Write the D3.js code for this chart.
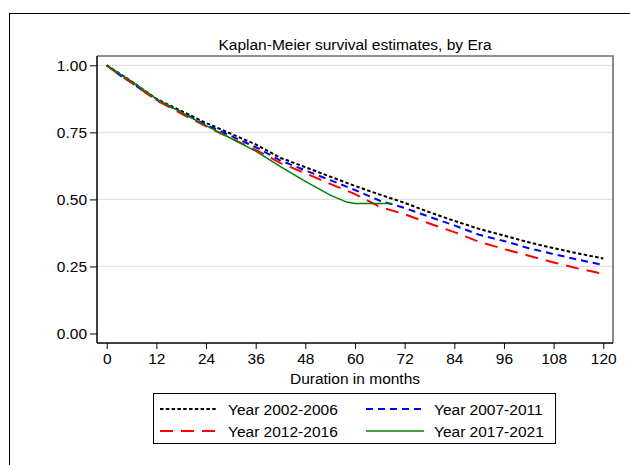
<!DOCTYPE html>
<html>
<head>
<meta charset="utf-8">
<script src="https://cdn.jsdelivr.net/npm/d3@7"></script>
<style>
  html, body { margin: 0; padding: 0; background: #fff; }
  svg { display: block; font-family: "Liberation Sans", Arial, sans-serif; }
</style>
</head>
<body>
<svg id="chart" width="630" height="465"></svg>
<script>
// Kaplan-Meier survival estimates by era (months since start)
const months1 = [0, 3, 6, 12, 18, 24, 30, 36, 42, 48, 54, 60, 66, 72, 78, 84, 90, 96, 102, 108, 114, 120];
const surv2002 = [1.00, 0.97, 0.94, 0.875, 0.83, 0.785, 0.745, 0.705, 0.655, 0.62, 0.585, 0.55, 0.518, 0.487, 0.452, 0.42, 0.39, 0.365, 0.34, 0.318, 0.298, 0.28];
const surv2007 = [1.00, 0.965, 0.935, 0.872, 0.825, 0.778, 0.737, 0.695, 0.645, 0.608, 0.572, 0.535, 0.495, 0.468, 0.435, 0.403, 0.368, 0.345, 0.318, 0.296, 0.275, 0.255];
const surv2012 = [1.00, 0.965, 0.935, 0.87, 0.82, 0.772, 0.728, 0.685, 0.635, 0.598, 0.558, 0.52, 0.472, 0.445, 0.41, 0.378, 0.342, 0.315, 0.29, 0.265, 0.242, 0.222];
const months4 = [0, 3, 6, 12, 18, 24, 30, 36, 42, 48, 54, 58, 60, 69];
const surv2017 = [1.00, 0.97, 0.94, 0.875, 0.825, 0.775, 0.728, 0.68, 0.622, 0.567, 0.516, 0.49, 0.485, 0.485];

const seriesNames = ["Year 2002-2006", "Year 2007-2011", "Year 2012-2016", "Year 2017-2021"];
const xTicks = [0, 12, 24, 36, 48, 60, 72, 84, 96, 108, 120];
const yTicks = [0, 0.25, 0.5, 0.75, 1.0];
const titleText = "Kaplan-Meier survival estimates, by Era";
const xTitle = "Duration in months";

const series = [
  { name: seriesNames[0], t: months1, s: surv2002, color: "#000000", dash: "3.5,2.3", width: 2 },
  { name: seriesNames[1], t: months1, s: surv2007, color: "#0000ff", dash: "7,5", width: 2 },
  { name: seriesNames[2], t: months1, s: surv2012, color: "#ff0000", dash: "13,8", width: 2 },
  { name: seriesNames[3], t: months4, s: surv2017, color: "#008000", dash: null, width: 1.5 }
];

const svg = d3.select("#chart");
const fontSize = 15.5;

// outer graph frame (runs off the right and bottom edges)
svg.append("rect")
  .attr("x", 9.5).attr("y", 13.5)
  .attr("width", 700).attr("height", 600)
  .attr("fill", "none").attr("stroke", "#000").attr("stroke-width", 1);

const plot = { left: 97, right: 613, top: 56, bottom: 343 };
const x = d3.scaleLinear().domain([0, 120]).range([106.7, 603.3]);
const y = d3.scaleLinear().domain([0, 1]).range([333.5, 65.3]);

// grid lines
svg.append("g")
  .selectAll("line")
  .data(yTicks.filter(d => d > 0))
  .join("line")
  .attr("x1", plot.left).attr("x2", plot.right)
  .attr("y1", d => y(d)).attr("y2", d => y(d))
  .attr("stroke", "#e1e1e1").attr("stroke-width", 1.2);

// plot region border: top and right in gray
svg.append("path")
  .attr("d", `M${plot.left},${plot.top}H${plot.right}V${plot.bottom}`)
  .attr("fill", "none").attr("stroke", "#6e6e6e").attr("stroke-width", 1.6);

// axes
const xAxis = d3.axisBottom(x).tickValues(xTicks).tickSize(6).tickPadding(4).tickFormat(d3.format("d"));
const gx = svg.append("g").attr("transform", `translate(0,${plot.bottom})`).call(xAxis);
gx.select(".domain").attr("d", `M${plot.left},0H${plot.right}`).attr("stroke", "#000").attr("stroke-width", 1.5);
gx.selectAll(".tick line").attr("stroke", "#000").attr("stroke-width", 1);
gx.selectAll(".tick text").attr("font-size", fontSize).attr("fill", "#000")
  .attr("font-family", "Liberation Sans, Arial, sans-serif").attr("dy", "0.71em");

const yAxis = d3.axisLeft(y).tickValues(yTicks).tickSize(7).tickPadding(3).tickFormat(d3.format(".2f"));
const gy = svg.append("g").attr("transform", `translate(${plot.left},0)`).call(yAxis);
gy.select(".domain").attr("d", `M0,${plot.top}V${plot.bottom}`).attr("stroke", "#000").attr("stroke-width", 1.5);
gy.selectAll(".tick line").attr("stroke", "#000").attr("stroke-width", 1);
gy.selectAll(".tick text").attr("font-size", fontSize).attr("fill", "#000")
  .attr("font-family", "Liberation Sans, Arial, sans-serif");

// survival curves
const line = d3.line().x(d => x(d[0])).y(d => y(d[1]));
svg.append("g")
  .selectAll("path")
  .data(series)
  .join("path")
  .attr("d", d => line(d.t.map((t, i) => [t, d.s[i]])))
  .attr("fill", "none")
  .attr("stroke", d => d.color)
  .attr("stroke-width", d => d.width)
  .attr("stroke-dasharray", d => d.dash);

// titles
svg.append("text")
  .attr("x", (plot.left + plot.right) / 2).attr("y", 49.5)
  .attr("text-anchor", "middle").attr("font-size", fontSize)
  .text(titleText);

svg.append("text")
  .attr("x", (plot.left + plot.right) / 2).attr("y", 383.5)
  .attr("text-anchor", "middle").attr("font-size", fontSize)
  .text(xTitle);

// legend
const legend = svg.append("g");
legend.append("rect")
  .attr("x", 153.5).attr("y", 393.5).attr("width", 402).attr("height", 50)
  .attr("fill", "#fff").attr("stroke", "#000").attr("stroke-width", 1);

const cols = [160, 366];
const rows = [409, 431];
series.forEach((s, i) => {
  const cx = cols[i % 2], cy = rows[Math.floor(i / 2)];
  legend.append("line")
    .attr("x1", cx).attr("x2", cx + 58).attr("y1", cy).attr("y2", cy)
    .attr("stroke", s.color).attr("stroke-width", s.width)
    .attr("stroke-dasharray", s.dash);
  legend.append("text")
    .attr("x", cx + 68).attr("y", cy + 5.5)
    .attr("font-size", fontSize)
    .text(s.name);
});
</script>
</body>
</html>
